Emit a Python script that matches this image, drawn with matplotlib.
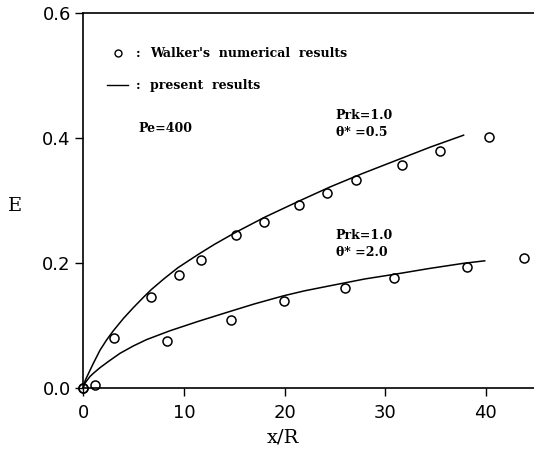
"""Recreate the E vs x/R comparison figure (Pe=400)."""
import matplotlib
matplotlib.use("Agg")
import matplotlib.pyplot as plt

# Walker's numerical results (circles)
walker_x_05 = [0.0, 3.08, 6.73, 9.48, 11.7, 15.15, 18.0, 21.47, 24.2, 27.1, 31.7, 35.46, 40.36]
walker_e_05 = [0.0, 0.081, 0.146, 0.181, 0.205, 0.246, 0.266, 0.293, 0.313, 0.333, 0.357, 0.380, 0.402]
walker_x_20 = [0.0, 1.17, 8.29, 14.68, 19.98, 26.05, 30.9, 38.14, 43.84]
walker_e_20 = [0.0, 0.005, 0.076, 0.109, 0.139, 0.160, 0.176, 0.194, 0.208]

# present results (solid curves)
present_x_05 = [0.0, 0.05, 0.2, 0.67, 1.0, 1.66, 2.3, 2.98, 4.0, 4.97, 6.0, 6.76, 8.0, 9.41,
                11.4, 13.0, 15.08, 18.06, 21.5, 24.5, 27.8, 31.15, 34.5, 37.8]
present_e_05 = [0.0, 0.005, 0.013, 0.029, 0.040, 0.061, 0.077, 0.092, 0.112, 0.129, 0.146,
                0.158, 0.175, 0.193, 0.214, 0.230, 0.249, 0.274, 0.300, 0.322, 0.344, 0.365,
                0.386, 0.405]
present_x_20 = [0.0, 0.05, 0.2, 0.67, 1.0, 1.66, 2.5, 3.65, 5.0, 6.3, 8.6, 11.4, 14.58, 17.0,
                19.9, 22.0, 24.5, 28.0, 31.15, 34.5, 37.8, 39.9]
present_e_20 = [0.0, 0.004, 0.009, 0.019, 0.024, 0.033, 0.043, 0.056, 0.068, 0.078, 0.092,
                0.107, 0.123, 0.135, 0.148, 0.156, 0.164, 0.175, 0.183, 0.192, 0.200, 0.204]

x_ticks = [0, 10, 20, 30, 40]
y_ticks = [0.0, 0.2, 0.4, 0.6]

serif = ["DejaVu Serif"]
note = dict(fontsize=9, family=serif, weight="bold", va="center")

fig = plt.figure(figsize=(5.34, 4.53), dpi=100)
ax = fig.add_axes([0.156, 0.1428, 0.844, 0.8278])

ax.plot(present_x_05, present_e_05, color="black", linewidth=1.1)
ax.plot(present_x_20, present_e_20, color="black", linewidth=1.1)
ax.plot(walker_x_05, walker_e_05, "o", mfc="none", mec="black", ms=6.5, mew=1.1, clip_on=False)
ax.plot(walker_x_20, walker_e_20, "o", mfc="none", mec="black", ms=6.5, mew=1.1, clip_on=False)

ax.set_xlim(0, 44.8)
ax.set_ylim(0, 0.6)
ax.set_xticks(x_ticks)
ax.set_yticks(y_ticks)
ax.set_xticklabels([str(t) for t in x_ticks])
ax.set_yticklabels([f"{t:.1f}" for t in y_ticks])
ax.tick_params(direction="out", length=6, width=1, labelsize=13, top=False, right=False)
ax.tick_params(axis="x", pad=5)
ax.tick_params(axis="y", pad=3)
for lab in ax.get_xticklabels() + ax.get_yticklabels():
    lab.set_family(["DejaVu Sans"])
ax.spines["right"].set_visible(False)
for s in ("left", "bottom", "top"):
    ax.spines[s].set_linewidth(1.2)

ax.set_xlabel("x/R", fontsize=14, family=serif, va="center")
ax.xaxis.set_label_coords(0.444, -0.13)
ax.set_ylabel("E", fontsize=14, family=serif, rotation=0, va="center")
ax.yaxis.set_label_coords(-0.152, 0.485)

# legend-like text block
ax.plot([3.45], [0.5365], "o", mfc="none", mec="black", ms=5, mew=1.0)
ax.text(5.2, 0.5365, ":", **note)
ax.text(6.63, 0.5365, "Walker's  numerical  results", **note)
ax.plot([2.37, 4.45], [0.4853, 0.4853], color="black", linewidth=1.0)
ax.text(5.2, 0.4853, ":", **note)
ax.text(6.63, 0.4853, "present  results", **note)
ax.text(5.44, 0.4165, "Pe=400", **note)

ax.text(25.1, 0.437, "Prk=1.0", **note)
ax.text(25.1, 0.410, "θ* =0.5", **note)
ax.text(25.1, 0.245, "Prk=1.0", **note)
ax.text(25.1, 0.218, "θ* =2.0", **note)

fig.savefig("out.png", dpi=100)
